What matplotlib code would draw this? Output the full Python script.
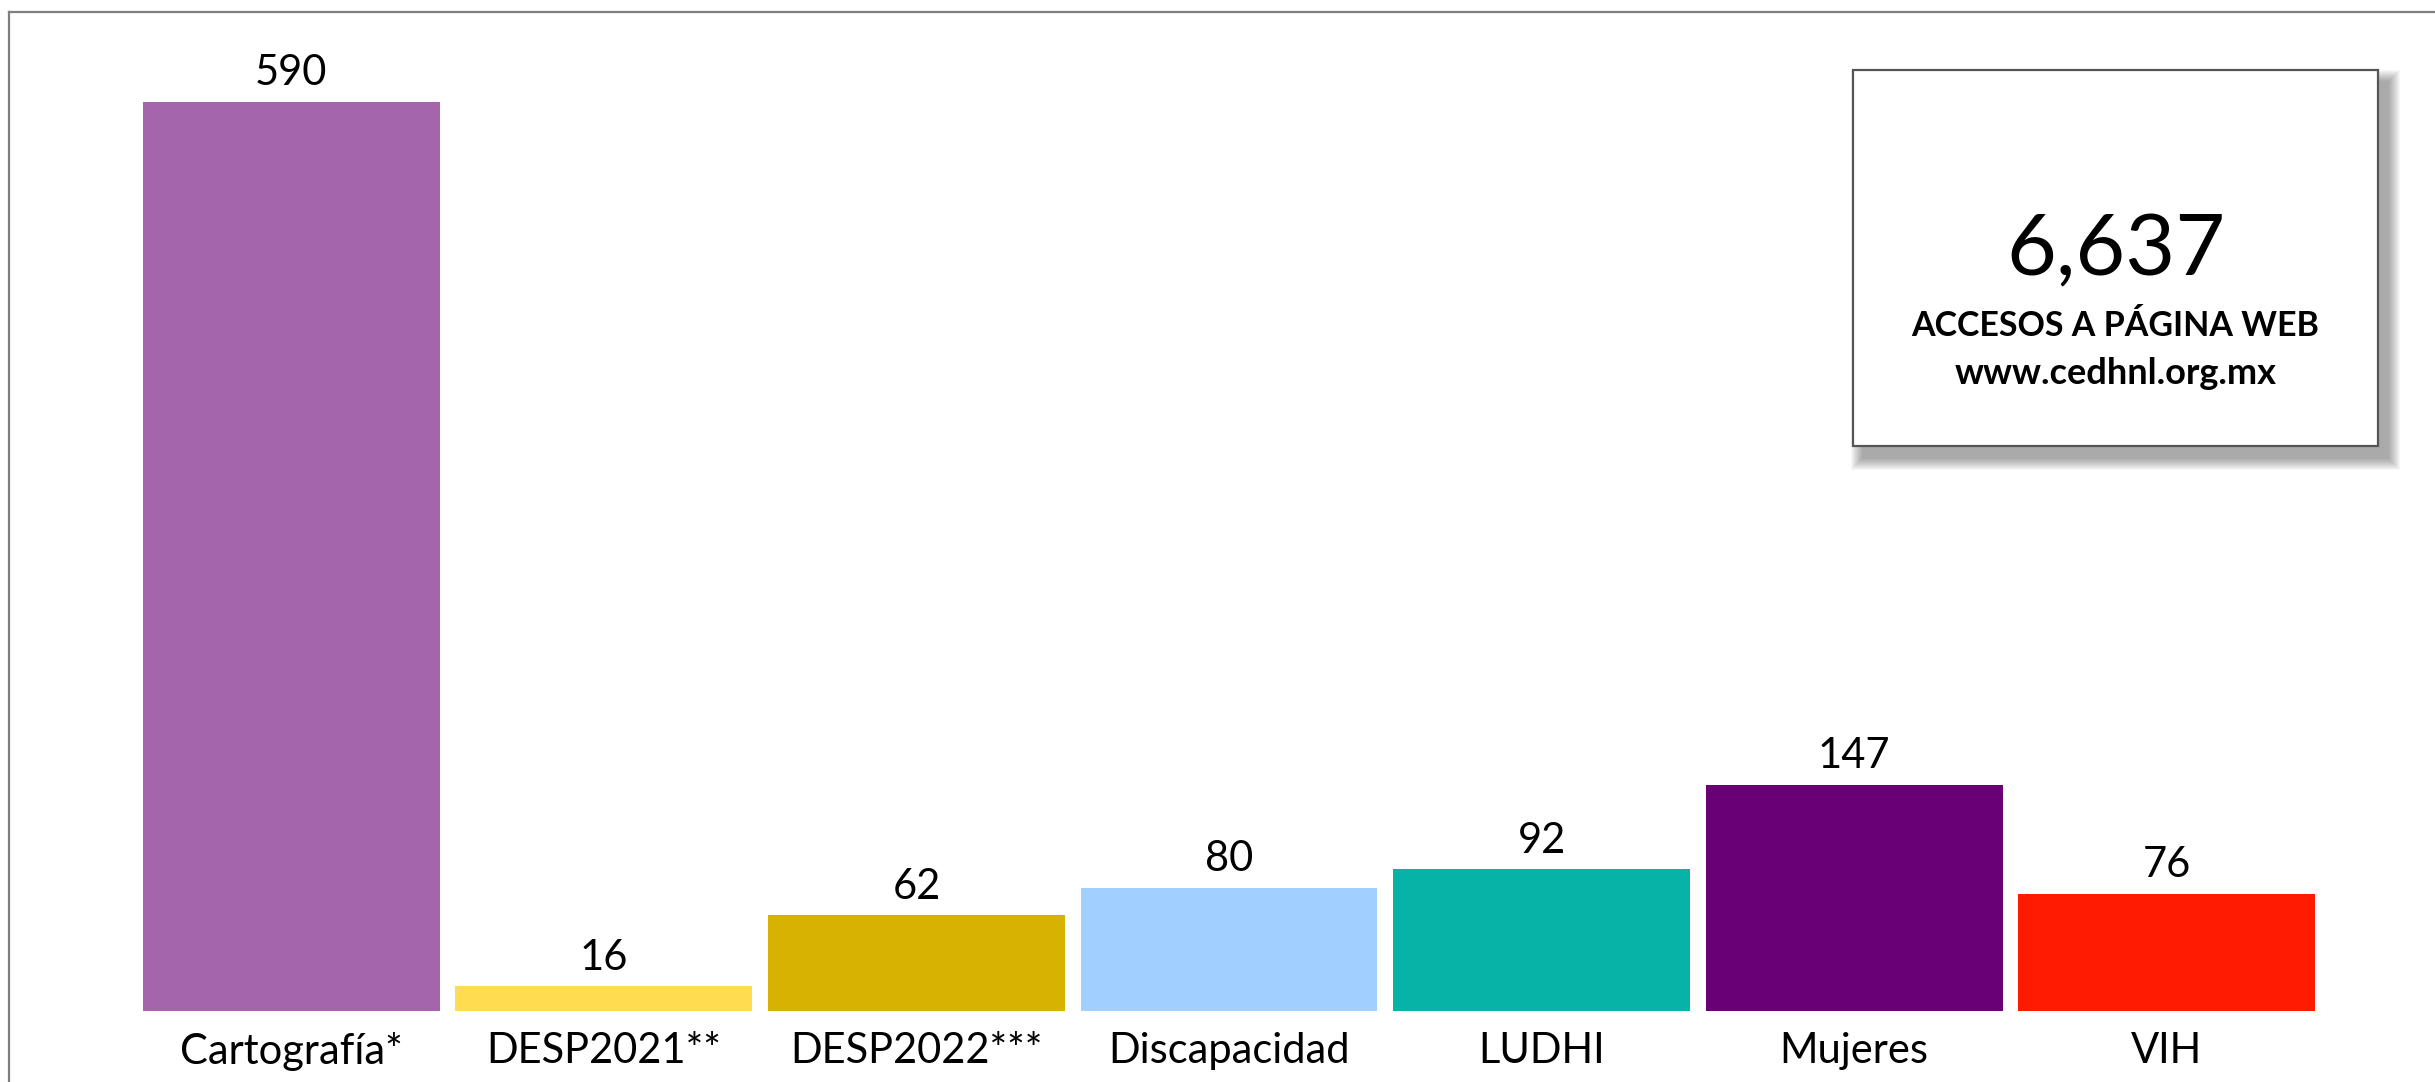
import matplotlib
matplotlib.use("Agg")
import matplotlib.pyplot as plt
from matplotlib.patches import Rectangle
from matplotlib.lines import Line2D

# Datos: accesos por micrositio
categorias = ["Cartografía*", "DESP2021**", "DESP2022***", "Discapacidad", "LUDHI", "Mujeres", "VIH"]
accesos = [590, 16, 62, 80, 92, 147, 76]
colores = ["#A565AD", "#FFDD4F", "#D8B200", "#A2D0FE", "#07B2A6", "#690073", "#FF1A02"]

total_texto = "6,637"
titulo_caja = "ACCESOS A PÁGINA WEB"
sitio_web = "www.cedhnl.org.mx"

W, H = 2435, 1082
plt.rcParams["font.family"] = ["Lato", "DejaVu Sans"]

fig = plt.figure(figsize=(W / 100, H / 100), dpi=100)
fig.patch.set_facecolor("white")

def px(x, y):
    # pixeles (origen arriba-izquierda) -> fracción de figura
    return x / W, 1 - y / H

# Marco exterior (solo bordes superior e izquierdo visibles)
fig.add_artist(Line2D([9 / W, 1.0], [1 - 12 / H] * 2, color="#7F7F7F", lw=1.6))
fig.add_artist(Line2D([9 / W] * 2, [1 - 12 / H, 0.0], color="#7F7F7F", lw=1.6))

# Área de la gráfica
ax_l, ax_r, ax_t, ax_b = 135, 2323, 30, 1011
ax = fig.add_axes([ax_l / W, 1 - ax_b / H, (ax_r - ax_l) / W, (ax_b - ax_t) / H])
x = range(len(categorias))
barras = ax.bar(x, accesos, width=0.95, color=colores)
ax.set_xlim(-0.5, len(categorias) - 0.5)
ax.set_ylim(0, (ax_b - ax_t) / ((ax_b - 102) / accesos[0]))

for rect, v in zip(barras, accesos):
    ax.annotate(str(v), (rect.get_x() + rect.get_width() / 2, v),
                xytext=(0, 12), textcoords="offset points",
                ha="center", va="baseline", fontsize=30, color="black")

ax.set_xticks(list(x))
ax.set_xticklabels(categorias, fontsize=30)
ax.tick_params(axis="x", length=0, pad=15)
ax.set_yticks([])
for s in ax.spines.values():
    s.set_visible(False)
ax.patch.set_alpha(0)

# Caja con total y sombra difusa
bx0, by0, bx1, by1 = 1853, 70, 2378, 446
for k in range(12, 0, -1):
    x0, y0 = px(bx0 + 10 - k, by1 + 12 + k)
    sw = (bx1 - bx0 + 2 * k) / W
    sh = (by1 - by0 + 2 * k) / H
    fig.add_artist(Rectangle((x0, y0), sw, sh, facecolor="black",
                             edgecolor="none", alpha=0.03))
x0, y0 = px(bx0, by1)
fig.add_artist(Rectangle((x0, y0), (bx1 - bx0) / W, (by1 - by0) / H,
                         facecolor="white", edgecolor="#555555", lw=1.6))

cx = (bx0 + bx1) / 2 / W
fig.text(cx, 1 - 275 / H, total_texto, ha="center", va="baseline", fontsize=62, color="black")
fig.text(cx, 1 - 336 / H, titulo_caja, ha="center", va="baseline", fontsize=24.5,
         fontweight="bold", color="black")
fig.text(cx, 1 - 384 / H, sitio_web, ha="center", va="baseline", fontsize=26,
         fontweight="bold", color="black")

fig.savefig("out.png", dpi=100, facecolor="white")
